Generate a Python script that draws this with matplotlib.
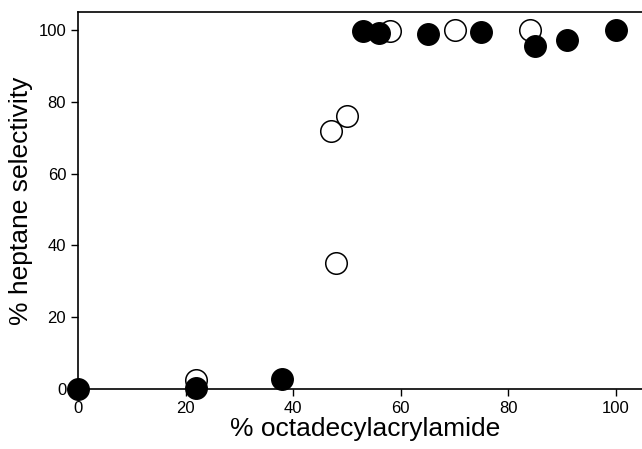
import matplotlib
matplotlib.use("Agg")
import matplotlib.pyplot as plt

# filled circles
filled_x = [0, 22, 38, 53, 56, 65, 75, 85, 91, 100]
filled_y = [0, 0.4, 2.7, 99.7, 99.3, 99.0, 99.6, 95.7, 97.3, 100]

# open circles
open_x = [22, 47, 48, 50, 58, 70, 84]
open_y = [2.5, 72, 35, 76, 99.8, 99.9, 99.9]

xticks = [0, 20, 40, 60, 80, 100]
yticks = [0, 20, 40, 60, 80, 100]

plt.rcParams['font.family'] = ['Liberation Sans Narrow', 'Liberation Sans', 'DejaVu Sans']

fig = plt.figure(figsize=(6.42, 4.49), dpi=100)
# axes runs a bit past the right edge of the picture, as in the reference
ax = fig.add_axes([0.1215, 0.1336, 0.894, 0.8394])

ax.plot(open_x, open_y, 'o', ms=15.5, mfc='white', mec='black', mew=1.1,
        clip_on=False, zorder=3)
ax.plot(filled_x, filled_y, 'o', ms=15.5, mfc='black', mec='black',
        clip_on=False, zorder=4)

ax.set_xlim(0, 106.7)
ax.set_ylim(0, 105)
ax.set_xticks(xticks)
ax.set_yticks(yticks)
ax.tick_params(direction='out', length=5, width=1, labelsize=12)
ax.spines['right'].set_visible(False)
for s in ['left', 'bottom', 'top']:
    ax.spines[s].set_linewidth(1.2)

ax.set_xlabel('% octadecylacrylamide', fontsize=19, family=['Liberation Sans', 'DejaVu Sans'], labelpad=1)
ax.set_ylabel('% heptane selectivity', fontsize=19, family=['Liberation Sans', 'DejaVu Sans'], labelpad=4)

fig.savefig('out.png', dpi=100)
